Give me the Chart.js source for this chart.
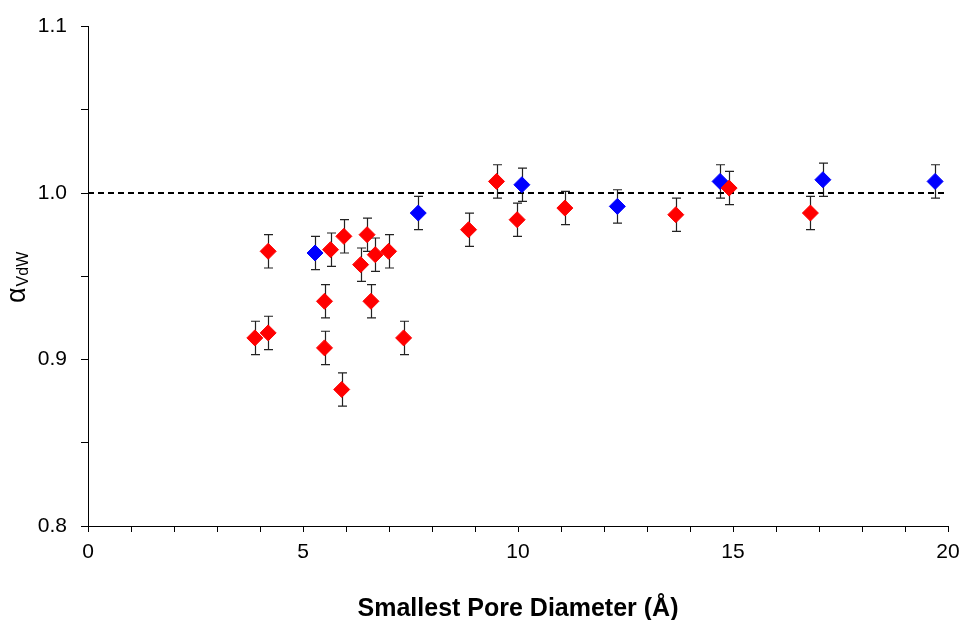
<!DOCTYPE html>
<html lang="en">
<head>
<meta charset="UTF-8">
<title>alpha VdW vs smallest pore diameter</title>
<script src="https://cdn.jsdelivr.net/npm/chart.js"></script>
<style>
    html, body { margin: 0; padding: 0; background: #fff; }
    #wrap { width: 964px; height: 620px; }
</style>
</head>
<body>
<div id="wrap"><canvas id="poreChart" width="964" height="620"></canvas></div>
<script>
// red series
const redX   = [3.88, 4.19, 4.19, 5.50, 5.50, 5.64, 5.90, 5.95, 6.34, 6.49, 6.58, 6.68, 6.99, 7.34, 8.85, 9.50, 9.98, 11.09, 13.67, 14.91, 16.80];
const redY   = [0.913, 0.916, 0.965, 0.935, 0.907, 0.966, 0.882, 0.974, 0.957, 0.975, 0.935, 0.963, 0.965, 0.913, 0.978, 1.007, 0.984, 0.991, 0.987, 1.003, 0.988];
const redErr = [0.010, 0.010, 0.010, 0.010, 0.010, 0.010, 0.010, 0.010, 0.010, 0.010, 0.010, 0.010, 0.010, 0.010, 0.010, 0.010, 0.010, 0.010, 0.010, 0.010, 0.010];

// blue series
const blueX   = [5.28, 7.68, 10.09, 12.31, 14.70, 17.09, 19.70];
const blueY   = [0.964, 0.988, 1.005, 0.992, 1.007, 1.008, 1.007];
const blueErr = [0.010, 0.010, 0.010, 0.010, 0.010, 0.010, 0.010];

// reference line
const refX = [0, 20];
const refY = [1.0, 1.0];

const FONT = "'Liberation Sans', Arial, sans-serif";

const toPts = (xs, ys) => xs.map((x, i) => ({ x: x, y: ys[i] }));

// error bars, drawn under the markers
const errorBars = {
    id: 'errorBars',
    beforeDatasetsDraw(chart) {
        const ctx = chart.ctx;
        const xs = chart.scales.x, ys = chart.scales.y;
        ctx.save();
        ctx.strokeStyle = '#222';
        ctx.lineWidth = 1.2;
        chart.data.datasets.forEach(ds => {
            if (!ds.err) return;
            ds.data.forEach((p, i) => {
                const px = Math.round(xs.getPixelForValue(p.x)) + 0.5;
                const top = ys.getPixelForValue(p.y + ds.err[i]);
                const bot = ys.getPixelForValue(p.y - ds.err[i]);
                ctx.beginPath();
                ctx.moveTo(px, top); ctx.lineTo(px, bot);
                ctx.moveTo(px - 4.5, top); ctx.lineTo(px + 4.5, top);
                ctx.moveTo(px - 4.5, bot); ctx.lineTo(px + 4.5, bot);
                ctx.stroke();
            });
        });
        ctx.restore();
    }
};

// y axis title: alpha with subscript VdW
const yTitle = {
    id: 'yTitle',
    afterDraw(chart) {
        const ctx = chart.ctx;
        ctx.save();
        ctx.translate(25, 303);
        ctx.rotate(-Math.PI / 2);
        ctx.fillStyle = '#000';
        ctx.textAlign = 'left';
        ctx.textBaseline = 'alphabetic';
        ctx.font = '27px ' + FONT;
        ctx.fillText('α', 0, 0);
        const w = ctx.measureText('α').width;
        ctx.font = '16px ' + FONT;
        ctx.fillText('VdW', w + 1, 3);
        ctx.restore();
    }
};

new Chart(document.getElementById('poreChart').getContext('2d'), {
    type: 'scatter',
    data: {
        datasets: [
            {
                label: 'red',
                data: toPts(redX, redY),
                err: redErr,
                pointStyle: 'rectRot',
                pointRadius: 8,
                pointHoverRadius: 8,
                backgroundColor: '#ff0000',
                borderColor: '#ff0000',
                borderWidth: 1
            },
            {
                label: 'blue',
                data: toPts(blueX, blueY),
                err: blueErr,
                pointStyle: 'rectRot',
                pointRadius: 8,
                pointHoverRadius: 8,
                backgroundColor: '#0000ff',
                borderColor: '#0000ff',
                borderWidth: 1
            },
            {
                type: 'line',
                label: 'ref',
                data: toPts(refX, refY),
                borderColor: '#000',
                borderWidth: 2,
                borderDash: [6, 4],
                pointRadius: 0,
                fill: false
            }
        ]
    },
    options: {
        responsive: false,
        animation: false,
        events: [],
        layout: { padding: { left: 0, right: 16, top: 25, bottom: 0 } },
        plugins: {
            legend: { display: false },
            tooltip: { enabled: false }
        },
        scales: {
            x: {
                type: 'linear',
                min: 0,
                max: 20,
                afterFit(scale) {
                    scale.height = 94;
                    scale.paddingRight = 0;
                    scale.paddingLeft = 0;
                },
                border: { display: true, color: '#000', width: 1 },
                grid: { display: true, drawOnChartArea: false, drawTicks: true, tickLength: 6, color: '#000' },
                ticks: {
                    stepSize: 1,
                    autoSkip: false,
                    maxRotation: 0,
                    padding: 8,
                    color: '#000',
                    font: { family: FONT, size: 21 },
                    callback: v => (v % 5 === 0 ? String(v) : '')
                },
                title: {
                    display: true,
                    text: 'Smallest Pore Diameter (Å)',
                    color: '#000',
                    font: { family: FONT, size: 25, weight: 'bold', lineHeight: 0.85 },
                    padding: { top: 0, bottom: 0 }
                }
            },
            y: {
                type: 'linear',
                min: 0.8,
                max: 1.1,
                afterFit(scale) { scale.width = 88; },
                border: { display: true, color: '#000', width: 1 },
                grid: { display: true, drawOnChartArea: false, drawTicks: true, tickLength: 7, color: '#000' },
                ticks: {
                    stepSize: 0.05,
                    autoSkip: false,
                    padding: 14,
                    color: '#000',
                    font: { family: FONT, size: 21 },
                    callback: v => (Math.abs(v * 10 - Math.round(v * 10)) < 1e-6 ? v.toFixed(1) : '')
                }
            }
        }
    },
    plugins: [errorBars, yTitle]
});
</script>
</body>
</html>
